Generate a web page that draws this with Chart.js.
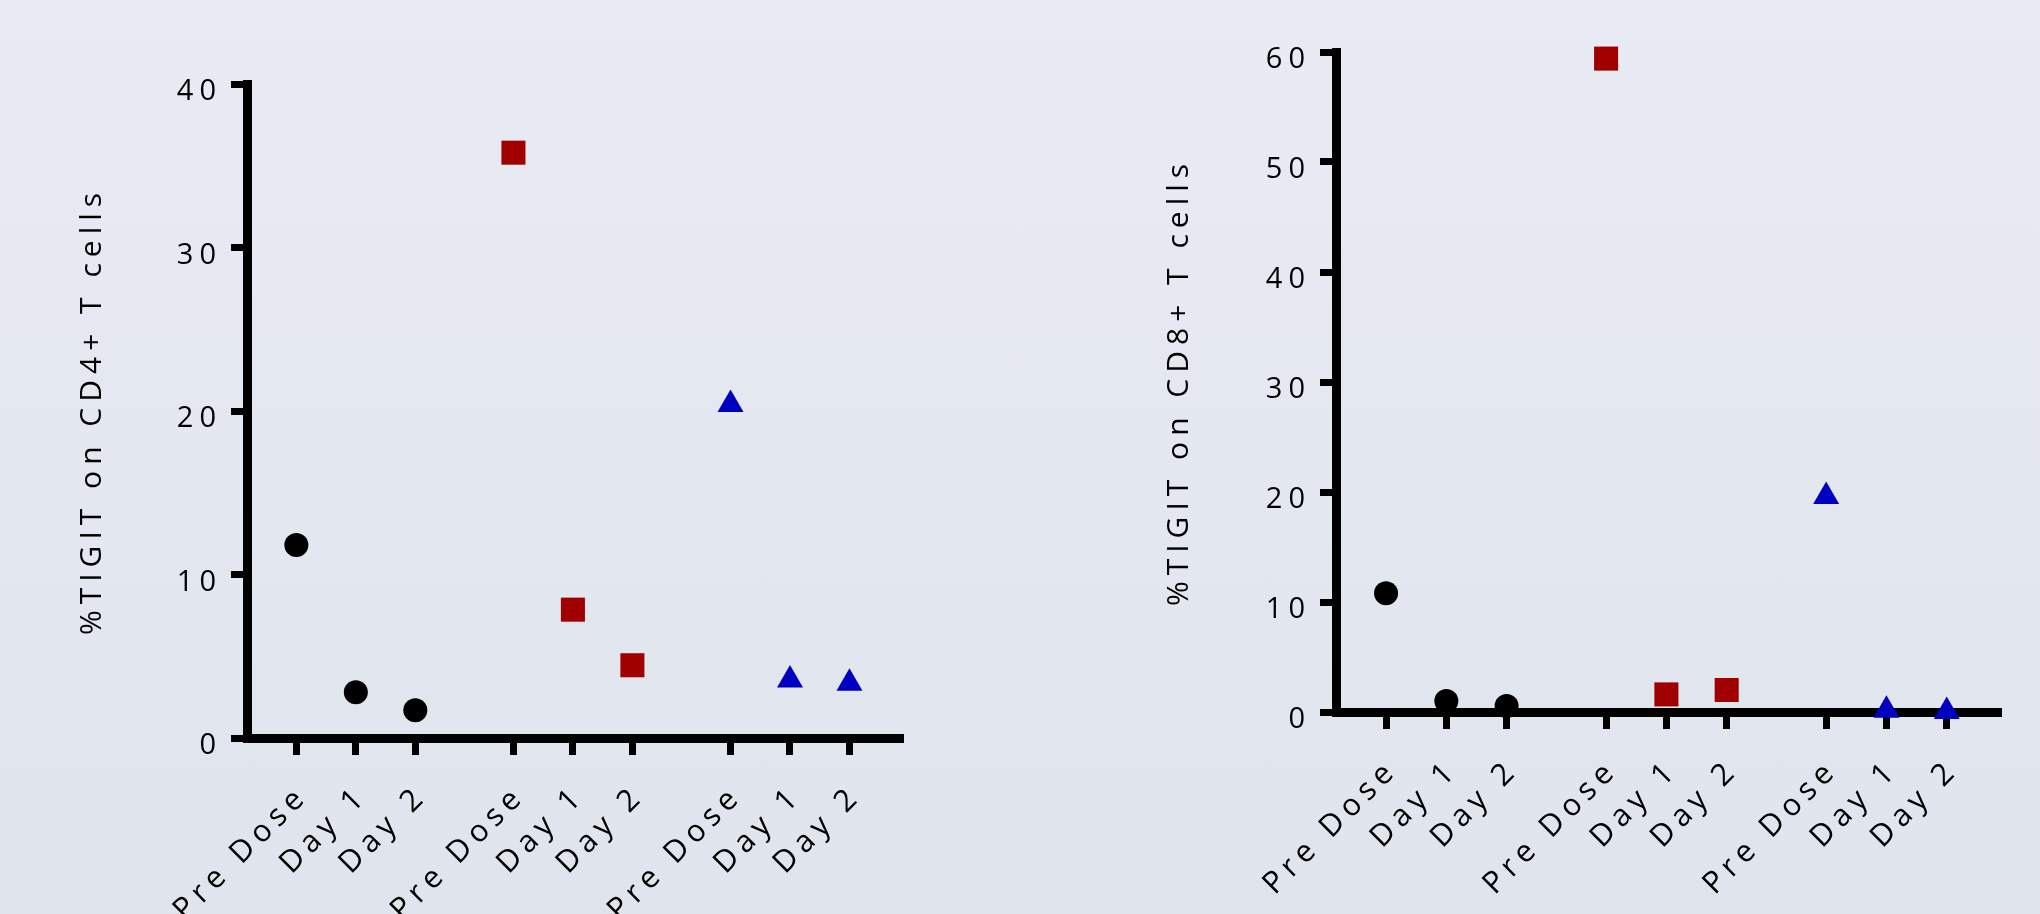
<!DOCTYPE html>
<html>
<head>
<meta charset="utf-8">
<title>TIGIT on CD4+ / CD8+ T cells</title>
<script src="https://cdn.jsdelivr.net/npm/chart.js@4.4.1/dist/chart.umd.min.js"></script>
<style>
  html, body {
    margin: 0;
    width: 2040px;
    height: 914px;
    overflow: hidden;
    background: linear-gradient(#e8ebf3, #e0e4ed);
  }
  .panel {
    position: absolute;
    top: 0;
  }
</style>
</head>
<body>
<div class="panel" style="left:0"><canvas id="cd4Chart" width="1020" height="914"></canvas></div>
<div class="panel" style="left:1020px"><canvas id="cd8Chart" width="1020" height="914"></canvas></div>
<script>
// category ticks on the x axis (three groups with a gap between them)
const tickPositions = [1, 2, 3, 4.65, 5.65, 6.65, 8.3, 9.3, 10.3];
const tickLabels = ['Pre Dose', 'Day 1', 'Day 2', 'Pre Dose', 'Day 1', 'Day 2', 'Pre Dose', 'Day 1', 'Day 2'];
const blackX = [1, 2, 3];
const redX = [4.65, 5.65, 6.65];
const blueX = [8.3, 9.3, 10.3];

// %TIGIT on CD4+ T cells
const cd4Black = [11.8, 2.8, 1.7];
const cd4Red = [35.8, 7.85, 4.45];
const cd4Blue = [20.4, 3.55, 3.35];
const cd4Ticks = [0, 10, 20, 30, 40];

// %TIGIT on CD8+ T cells
const cd8Black = [10.8, 1.0, 0.55];
const cd8Red = [59.4, 1.6, 2.0];
const cd8Blue = [19.6, 0.15, 0.05];
const cd8Ticks = [0, 10, 20, 30, 40, 50, 60];

const FONT = { family: "'Open Sans', sans-serif", size: 29 };
const LABEL_FONT = { family: "'Open Sans', sans-serif", size: 30.5 };
const TITLE_FONT = { family: "'Open Sans', sans-serif", size: 30 };

// Prism-style wide tracking on every label
const letterSpacingPlugin = {
  id: 'letterSpacing',
  beforeDraw(chart) {
    chart.ctx.letterSpacing = '6px';
  }
};

const TigitChartRenderer = {
  /**
   * Build scatter datasets for one panel
   */
  buildDatasets(black, red, blue) {
    const toPoints = (xs, ys) => xs.map((x, i) => ({ x: x, y: ys[i] }));
    return [
      { data: toPoints(blackX, black), pointStyle: 'circle', pointRadius: 12, backgroundColor: '#000000', borderWidth: 0, clip: false },
      { data: toPoints(redX, red), pointStyle: 'rect', pointRadius: 17, backgroundColor: '#a00000', borderWidth: 0, clip: false },
      { data: toPoints(blueX, blue), pointStyle: 'triangle', pointRadius: 15, backgroundColor: '#0000c0', borderWidth: 0, clip: false }
    ];
  },

  /**
   * Render one panel
   * @param {string} canvasId - Canvas element ID
   * @param {Object} cfg - values, y ticks and layout sizes
   */
  renderPanel(canvasId, cfg) {
    const canvas = document.getElementById(canvasId);
    if (!canvas) return;

    const ctx = canvas.getContext('2d');

    return new Chart(ctx, {
      type: 'scatter',
      data: {
        datasets: this.buildDatasets(cfg.black, cfg.red, cfg.blue)
      },
      plugins: [letterSpacingPlugin],
      options: {
        responsive: false,
        animation: false,
        devicePixelRatio: 1,
        events: [],
        layout: {
          padding: cfg.padding
        },
        plugins: {
          legend: { display: false },
          tooltip: { enabled: false }
        },
        scales: {
          x: {
            type: 'linear',
            min: 0.17,
            max: 11.2,
            afterBuildTicks: function(scale) {
              scale.ticks = tickPositions.map(v => ({ value: v }));
            },
            afterFit: function(scale) {
              scale.height = cfg.xAxisHeight;
              scale.paddingLeft = 0;
              scale.paddingRight = 0;
            },
            ticks: {
              autoSkip: false,
              minRotation: 45,
              maxRotation: 45,
              padding: 23,
              labelOffset: 7,
              color: '#000000',
              font: LABEL_FONT,
              callback: function(value, index) {
                return tickLabels[index];
              }
            },
            grid: {
              drawOnChartArea: false,
              tickLength: 17,
              tickWidth: 7,
              tickColor: '#000000'
            },
            border: {
              display: true,
              color: '#000000',
              width: 9
            }
          },
          y: {
            min: 0,
            max: cfg.yMax,
            afterBuildTicks: function(scale) {
              scale.ticks = cfg.yTicks.map(v => ({ value: v }));
            },
            afterFit: function(scale) {
              scale.width = cfg.yAxisWidth;
              scale.paddingTop = 0;
              scale.paddingBottom = 0;
            },
            ticks: {
              padding: 9,
              labelOffset: 8,
              color: '#000000',
              font: FONT
            },
            grid: {
              drawOnChartArea: false,
              tickLength: 16,
              tickWidth: 7,
              tickColor: '#000000'
            },
            border: {
              display: true,
              color: '#000000',
              width: 9
            },
            title: {
              display: true,
              text: cfg.title,
              color: '#000000',
              font: TITLE_FONT,
              padding: { top: cfg.titleOffset, bottom: 0 }
            }
          }
        }
      }
    });
  }
};

TigitChartRenderer.renderPanel('cd4Chart', {
  black: cd4Black,
  red: cd4Red,
  blue: cd4Blue,
  yMax: 40,
  yTicks: cd4Ticks,
  title: '%TIGIT on CD4+ T cells',
  titleOffset: 74,
  yAxisWidth: 247,
  xAxisHeight: 176,
  padding: { left: 0, top: 84, right: 117, bottom: 0 }
});

TigitChartRenderer.renderPanel('cd8Chart', {
  black: cd8Black,
  red: cd8Red,
  blue: cd8Blue,
  yMax: 60,
  yTicks: cd8Ticks,
  title: '%TIGIT on CD8+ T cells',
  titleOffset: 141,
  yAxisWidth: 316,
  xAxisHeight: 202,
  padding: { left: 0, top: 52, right: 39, bottom: 0 }
});
</script>
</body>
</html>
